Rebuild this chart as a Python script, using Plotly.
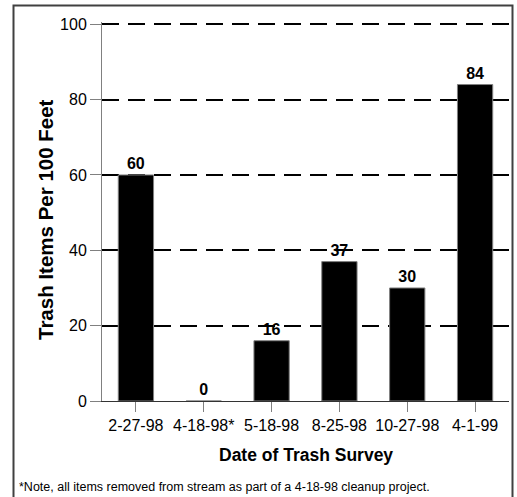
import plotly.graph_objects as go

# Survey dates and trash counts per 100 feet of stream
dates = ["2-27-98", "4-18-98*", "5-18-98", "8-25-98", "10-27-98", "4-1-99"]
items = [60, 0, 16, 37, 30, 84]
y_ticks = [0, 20, 40, 60, 80, 100]

W, H = 517, 497
ML, MR, MT, MB = 102, 8, 22, 96
PW, PH = W - ML - MR, H - MT - MB


def px_x(x):
    return (x - ML) / PW


def px_y(y):
    return (H - MB - y) / PH


FONT = "Liberation Sans, Arial, sans-serif"

fig = go.Figure(
    go.Bar(
        x=dates,
        y=items,
        width=0.52,
        marker=dict(color="black", line=dict(color="#808080", width=1)),
        text=items,
        texttemplate="<b>%{text}</b>",
        textposition="outside",
        constraintext="none",
        textfont=dict(family=FONT, size=16, color="black"),
        cliponaxis=False,
    )
)

fig.update_layout(
    width=W,
    height=H,
    margin=dict(l=ML, r=MR, t=MT, b=MB, pad=0),
    paper_bgcolor="white",
    plot_bgcolor="white",
    showlegend=False,
    font=dict(family=FONT, color="black"),
    xaxis=dict(
        showline=True,
        linecolor="#333333",
        linewidth=1,
        ticks="outside",
        ticklen=10,
        tickcolor="#808080",
        tickfont=dict(size=16),
        showgrid=False,
        zeroline=False,
    ),
    yaxis=dict(
        # a little headroom so the 100 gridline is kept
        range=[0, 100.6],
        tickvals=y_ticks,
        showline=True,
        linecolor="#808080",
        linewidth=1,
        ticks="outside",
        ticklen=11,
        tickcolor="#808080",
        tickfont=dict(size=16),
        showgrid=True,
        gridcolor="black",
        gridwidth=2,
        griddash="17px,9px",
        zeroline=False,
    ),
    annotations=[
        dict(
            text="<b>Date of Trash Survey</b>",
            xref="paper", yref="paper",
            x=0.5, y=px_y(455),
            xanchor="center", yanchor="middle",
            showarrow=False,
            font=dict(size=17.5),
        ),
        dict(
            text="<b>Trash Items Per 100 Feet</b>",
            xref="paper", yref="paper",
            x=px_x(45), y=px_y(220),
            xanchor="center", yanchor="middle",
            textangle=-90,
            showarrow=False,
            font=dict(size=20.5),
        ),
        dict(
            text="*Note, all items removed from stream as part of a 4-18-98 cleanup project.",
            xref="paper", yref="paper",
            x=px_x(17), y=px_y(487),
            xanchor="left", yanchor="middle",
            showarrow=False,
            font=dict(size=12.5),
        ),
    ],
    shapes=[
        dict(
            type="rect",
            xref="paper", yref="paper",
            x0=px_x(13.5), x1=px_x(512.5),
            y0=px_y(520), y1=px_y(5.5),
            line=dict(color="#404040", width=2),
            fillcolor="rgba(0,0,0,0)",
            layer="above",
        )
    ],
)

fig.write_html("out.html")
